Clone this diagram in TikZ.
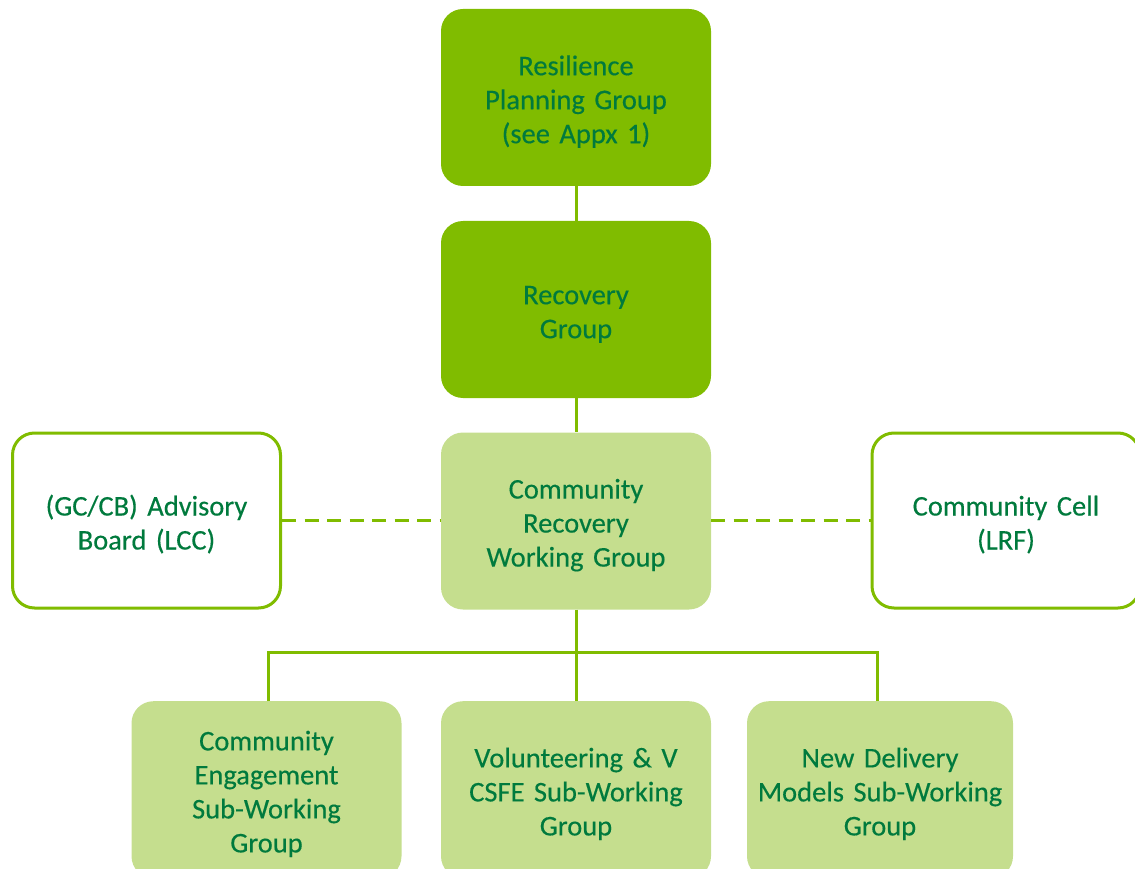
\documentclass[tikz,border=0pt]{standalone}
\usepackage{fontspec}
\setmainfont{Carlito}[FakeBold=0.35, WordSpace=0.85]
\definecolor{lime}{HTML}{80BC00}
\definecolor{pale}{HTML}{C5DE8E}
\definecolor{ink}{HTML}{007A3D}
\begin{document}
\begin{tikzpicture}[x=1pt,y=-1pt,
  boxbase/.style={rounded corners=22pt, minimum width=270pt, minimum height=177pt, inner sep=0pt, text=ink, align=center, font=\fontsize{28.5}{34}\selectfont, text width=255pt, execute at begin node={\rule{0pt}{28pt}}},
  darkbox/.style={boxbase, fill=lime},
  palebox/.style={boxbase, fill=pale},
  outbox/.style={boxbase, draw=lime, line width=3pt, fill=white, minimum width=268pt, minimum height=175pt},
  link/.style={draw=lime, line width=3pt},
  dlink/.style={draw=lime, line width=3pt, dash pattern=on 14pt off 8.5pt}]
\useasboundingbox (0,0) rectangle (1135,869);
\clip (0,0) rectangle (1135,869);
\node[darkbox] (rpg) at (576,97.5) {Resilience\\Planning Group\\(see Appx 1)};
\node[darkbox] (rg) at (576,309.5) {Recovery\\Group};
\node[palebox] (crwg) at (576,521) {Community\\Recovery\\Working Group};
\node[outbox] (adv) at (146.5,520.5) {(GC/CB) Advisory\\Board (LCC)};
\node[outbox] (cell) at (1006,520.5) {Community Cell\\(LRF)};
\node[palebox, anchor=north] (ce) at (266.5,701) {Community\\Engagement\\Sub-Working\\Group};
\node[palebox, anchor=north] (vol) at (576,701) {Volunteering \& V\\CSFE Sub-Working\\Group};
\node[palebox, anchor=north, minimum width=266pt] (ndm) at (880,701) {New Delivery\\Models Sub-Working\\Group};
\draw[link] (rpg.south) -- (rg.north);
\draw[link] (rg.south) -- (crwg.north);
\draw[dlink] (adv.east |- 0,520) -- (crwg.west |- 0,520);
\draw[dlink] (crwg.east |- 0,520) -- (cell.west |- 0,520);
\coordinate (bus) at (576,652);
\draw[link] (crwg.south) -- (bus);
\draw[link] (ce.north -| 268,0) |- (bus) -| (ndm.north -| 877,0);
\draw[link] (bus) -- (vol.north);
\end{tikzpicture}
\end{document}
